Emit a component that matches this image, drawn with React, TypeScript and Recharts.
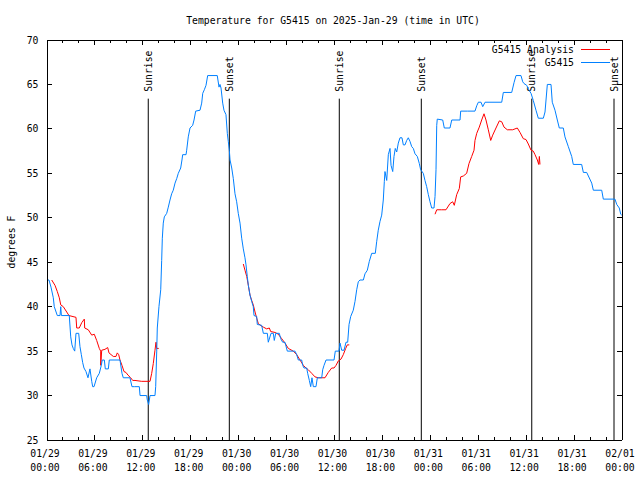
import React from 'react'
import { LineChart, Line, XAxis, YAxis, ReferenceLine, Legend } from 'recharts'

const FONT = '"DejaVu Sans Mono", "Liberation Mono", monospace'
const FS = 9.75

// G5415 observations: hours since 01/29 00:00 UTC, temperature (F)
const obsHours = [
  0, 0.25, 0.5, 0.79, 0.91, 1.29, 1.63, 1.72, 1.8, 2.79,
  2.97, 3.13, 3.29, 3.47, 3.63, 3.97, 4.13, 4.3, 4.47, 4.63,
  4.88, 5.13, 5.38, 5.6, 5.72, 5.89, 6.22, 6.55, 6.8, 6.92,
  7.18, 7.3, 7.68, 7.8, 9.14, 9.39, 9.55, 10.39, 10.64, 10.98,
  11.56, 11.65, 12.48, 12.56, 12.73, 12.9, 13.52, 13.61, 13.74, 13.81,
  14.02, 14.24, 14.36, 14.44, 14.56, 14.69, 14.99, 15.19, 15.4, 15.61,
  15.81, 16.03, 16.24, 16.44, 16.74, 16.9, 16.99, 17.41, 17.49, 17.69,
  17.91, 18.24, 18.41, 18.62, 19.16, 19.37, 19.5, 19.7, 19.91, 20.12,
  21.32, 21.54, 21.66, 21.79, 22.0, 22.16, 22.41, 22.58, 22.7, 22.83,
  22.92, 23.13, 23.33, 23.54, 23.75, 23.95, 24.17, 24.38, 24.58, 24.79,
  24.92, 25.08, 25.21, 25.42, 25.63, 25.83, 25.92, 26.26, 26.33, 26.88,
  27.09, 27.59, 27.71, 28.05, 28.34, 28.46, 28.64, 29.09, 29.26, 29.51,
  29.8, 30.09, 31.05, 31.27, 31.47, 31.89, 32.02, 32.18, 32.52, 32.64,
  32.85, 33.02, 33.18, 33.35, 33.68, 33.85, 34.4, 34.52, 34.69, 34.94,
  35.94, 36.1, 36.56, 36.69, 36.9, 37.19, 37.44, 37.65, 37.82, 38.03,
  38.35, 38.57, 38.78, 38.98, 39.19, 39.61, 39.82, 40.11, 40.36, 40.66,
  41.11, 41.28, 41.48, 41.7, 41.91, 42.11, 42.24, 42.32, 42.54, 42.74,
  42.95, 43.08, 43.29, 43.45, 43.61, 43.79, 43.99, 44.2, 44.45, 44.62,
  44.83, 45.04, 45.24, 45.45, 45.67, 45.87, 46.08, 46.37, 46.62, 46.79,
  47.12, 47.33, 47.54, 47.75, 47.96, 48.17, 48.46, 48.59, 48.71, 48.8,
  48.87, 49.55, 49.75, 50.46, 50.68, 51.72, 51.8, 52.63, 53.59, 53.81,
  54.01, 54.35, 54.56, 54.85, 56.94, 57.14, 58.19, 58.48, 58.73, 59.35,
  59.57, 59.73, 60.07, 60.32, 60.61, 60.89, 61.23, 61.52, 62.15, 62.36,
  62.65, 63.11, 63.27, 63.61, 63.9, 64.15, 64.65, 64.86, 65.28, 65.7,
  65.9, 66.95, 67.16, 67.58, 68.21, 68.41, 69.46, 69.66, 71.12, 71.34,
  71.66, 71.84, 71.97,
]
const obsTemp = [
  43, 43, 42.2, 41, 40, 39, 39, 40, 39, 39,
  36.6, 35.7, 35.3, 35, 37, 37, 35.5, 34.6, 33.7, 33.1,
  32.7, 32, 33, 31.6, 31, 31, 32, 32.5, 33.4, 34,
  34, 33, 33, 34, 34, 32.5, 32, 32, 31, 31,
  31, 30, 30, 29.5, 29, 30, 30, 31, 35, 37.6,
  40, 41.9, 45.2, 47.7, 49.4, 50.1, 50.5, 51.2, 52, 52.7,
  53.1, 53.9, 54.4, 55, 55.6, 56.5, 57.1, 57.1, 57.6, 59.1,
  60.1, 60.4, 61, 62, 62.1, 62.9, 64, 64.4, 64.9, 66,
  66, 64.7, 65, 64.6, 62.9, 62.1, 61.6, 59.5, 58.6, 57.6,
  56.5, 55.6, 54.4, 52.7, 51.8, 50.5, 49.4, 47.7, 46.5, 45.5,
  44.7, 43.4, 42.4, 41.3, 40.6, 40, 39, 38.9, 38, 37.9,
  37, 37, 36, 37, 37, 36.2, 37, 37, 36.4, 36,
  36, 35, 35, 34.6, 34, 34, 33.4, 33.1, 33.1, 32.5,
  31.7, 31, 32, 31, 31, 32, 32, 32.9, 33.4, 34,
  34, 35, 35, 35.9, 35.1, 35.1, 36, 36, 38, 38.9,
  39.6, 40.6, 41.9, 42.8, 43, 43, 43.7, 44.1, 45.1, 46,
  46, 47.3, 48.6, 49.6, 50.3, 52, 54.1, 55.2, 54.2, 57.1,
  57.8, 55.9, 55.2, 56.9, 57.8, 57.4, 58.4, 59, 59, 58.2,
  58.2, 58.7, 59, 58.6, 58, 57.8, 57.2, 56.9, 56.1, 55.4,
  55, 54.2, 53.5, 52.6, 51.8, 51.1, 51.1, 52.4, 55.4, 60.4,
  61.1, 61, 60.1, 60.1, 61, 61, 62, 62, 62, 62.6,
  63, 63, 62.5, 63, 63, 64.1, 64.1, 65.2, 66, 66,
  65.3, 65.1, 64.9, 64.4, 64, 63.2, 62.1, 61.2, 61.2, 61.9,
  65, 65, 63, 62.1, 61, 60.1, 60.1, 59.1, 58, 56.9,
  56, 56, 55.1, 55.1, 53.9, 53.1, 53.1, 52.1, 52.1, 51.5,
  51.1, 50.4, 50.3,
]

// G5415 Analysis (null = no analysis, breaks the line)
const anaHours = [
  0.59, 1.0, 1.29, 1.54, 1.72, 2.04, 2.47, 2.75, 3.63, 3.72,
  4.04, 4.35, 4.67, 4.72, 5.17, 5.6, 5.92, 6.22, 6.55, 6.72,
  6.73, 6.85, 7.26, 7.6, 7.76, 8.3, 8.64, 8.8, 8.98, 9.14,
  9.39, 9.64, 9.89, 10.14, 10.48, 10.73, 11.02, 11.86, 12.9, 13.11,
  13.31, 13.52, 13.65, 13.74, 13.99, 19,
  24.58, 24.79, 25.01, 25.21, 25.42, 25.63, 25.83, 26.05, 26.26, 26.46,
  26.88, 27.09, 27.51, 27.84, 28.01, 28.55, 28.96, 29.39, 29.8, 30.22,
  30.84, 31.27, 31.68, 32.1, 32.43, 32.72, 33.15, 33.56, 33.97, 34.81,
  35.22, 35.65, 35.94, 36.19, 36.48, 36.81, 37.1, 37.4, 37.6, 37.85, 43,
  48.59, 48.8, 49.42, 49.96, 50.46, 50.8, 51.0, 51.3, 51.63, 51.8,
  52.13, 52.55, 52.84, 53.18, 53.47, 53.59, 53.81, 54.13, 54.43, 54.72,
  54.97, 55.26, 55.56, 55.81, 56.22, 56.64, 56.94, 57.23, 57.64, 58.31,
  58.89, 59.23, 59.64, 59.98, 60.27, 60.61, 60.89, 61.11, 61.4, 61.57,
  61.65, 61.73,
]
const anaTemp = [
  43, 42.4, 41.7, 41, 40.2, 40, 39.4, 39, 38.8, 37.6,
  37.6, 38.2, 38.6, 37.6, 37.4, 36.8, 36.9, 36.2, 35.3, 35,
  33.4, 35.1, 35.2, 35.4, 34.8, 34.4, 34.4, 34.8, 34.6, 34,
  33.4, 32.7, 32.6, 32.3, 32, 31.7, 31.7, 31.6, 31.6, 32.5,
  33.6, 35.1, 36, 35.3, 35.3, null,
  44.8, 44.1, 43.4, 42.4, 41.3, 40.7, 40.2, 39.4, 38.7, 38.1,
  37.8, 37.7, 37.5, 37.6, 37.2, 37.1, 36.9, 36.4, 35.9, 35.3,
  35, 34.6, 34, 33.4, 33.1, 32.9, 32.5, 32.1, 32, 32,
  32.6, 33.1, 33.1, 33.4, 33.9, 34.1, 34.6, 35.3, 35.7, 35.7, null,
  50.4, 50.9, 50.9, 50.9, 51.6, 51.8, 51.4, 52.6, 53.3, 54.6,
  54.7, 55, 56.1, 56.9, 57.6, 58.7, 59.5, 60.2, 61, 61.7,
  61, 59.9, 58.7, 59.3, 60.1, 60.9, 60.8, 60.2, 59.9, 59.9,
  60.1, 59.6, 58.9, 58.8, 58.3, 57.6, 57.5, 57.1, 56.5, 56,
  56.9, 56,
]

const seriesNames = ['G5415 Analysis', 'G5415']

const sunriseHours = [12.68, 36.6, 60.7]
const sunsetHours = [22.83, 46.87, 71.0]
const markerTop = 63.4

const tickDays = ['01/29', '01/29', '01/29', '01/29', '01/30', '01/30', '01/30', '01/30', '01/31', '01/31', '01/31', '01/31', '02/01']
const tickTimes = ['00:00', '06:00', '12:00', '18:00', '00:00', '06:00', '12:00', '18:00', '00:00', '06:00', '12:00', '18:00', '00:00']
const xTicks = Array.from({ length: 37 }, (_, i) => i * 2)
const yTicks = [25, 30, 35, 40, 45, 50, 55, 60, 65, 70]

const obsData = obsHours.map((h, i) => ({ h, v: obsTemp[i] }))
const anaData = anaHours.map((h, i) => ({ h, v: anaTemp[i] }))

const txt = { fontFamily: FONT, fontSize: FS, fill: '#000' }

function BottomTick({ x, y, payload }: any) {
  const h = payload.value
  const major = h % 6 === 0
  const i = h / 6
  return (
    <g>
      <line x1={x} x2={x} y1={y} y2={y - (major ? 5 : 3)} stroke="#000" shapeRendering="crispEdges" />
      {major && (
        <text {...txt} textAnchor="middle">
          <tspan x={x - 2} y={y + 16.5}>{tickDays[i]}</tspan>
          <tspan x={x - 2} y={y + 31}>{tickTimes[i]}</tspan>
        </text>
      )}
    </g>
  )
}

function TopTick({ x, y, payload }: any) {
  const major = payload.value % 6 === 0
  return <line x1={x} x2={x} y1={y} y2={y + (major ? 5 : 3)} stroke="#000" shapeRendering="crispEdges" />
}

function LeftTick({ x, y, payload }: any) {
  return (
    <g>
      <line x1={x} x2={x + 5} y1={y} y2={y} stroke="#000" shapeRendering="crispEdges" />
      <text {...txt} x={x - 8.5} y={y + 3.5} textAnchor="end">{payload.value}</text>
    </g>
  )
}

function RightTick({ x, y }: any) {
  return <line x1={x} x2={x - 5} y1={y} y2={y} stroke="#000" shapeRendering="crispEdges" />
}

const markerLabel = (name: string) => (props: any) => {
  const { x, y } = props.viewBox
  const tx = x + 3.5
  const ty = y - 7
  return (
    <text {...txt} x={tx} y={ty} textAnchor="start" transform={`rotate(-90 ${tx} ${ty})`}>
      {name}
    </text>
  )
}

export default function App() {
  return (
    <div style={{ position: 'absolute', left: 0, top: 0, width: 640, height: 480, background: '#fff' }}>
      <LineChart width={640} height={480} margin={{ top: 0, right: 0, bottom: 0, left: 0 }}>
        <XAxis
          dataKey="h" type="number" domain={[0, 72]} ticks={xTicks} interval={0}
          allowDataOverflow height={40}
          axisLine={{ stroke: '#000', shapeRendering: 'crispEdges' }}
          tickLine={false} tickSize={0} tickMargin={0} tick={<BottomTick />}
        />
        <XAxis
          xAxisId="top" orientation="top" dataKey="h" type="number" domain={[0, 72]}
          ticks={xTicks} interval={0} allowDataOverflow height={40}
          axisLine={{ stroke: '#000', shapeRendering: 'crispEdges' }}
          tickLine={false} tickSize={0} tickMargin={0} tick={<TopTick />}
          label={(p: any) => {
            const vb = p.viewBox
            return (
              <text {...txt} x={vb.x + vb.width / 2 - 1.5} y={23.5} textAnchor="middle">
                Temperature for G5415 on 2025-Jan-29 (time in UTC)
              </text>
            )
          }}
        />
        <YAxis
          type="number" domain={[25, 70]} ticks={yTicks} interval={0} allowDataOverflow width={47}
          axisLine={{ stroke: '#000', shapeRendering: 'crispEdges' }}
          tickLine={false} tickSize={0} tickMargin={0} tick={<LeftTick />}
          label={(p: any) => {
            const vb = p.viewBox
            const cx = 14.5
            const cy = vb.y + vb.height / 2 + 2
            return (
              <text {...txt} x={cx} y={cy} textAnchor="middle" transform={`rotate(-90 ${cx} ${cy})`}>
                degrees F
              </text>
            )
          }}
        />
        <YAxis
          yAxisId="right" orientation="right" type="number" domain={[25, 70]} ticks={yTicks}
          interval={0} allowDataOverflow width={18}
          axisLine={{ stroke: '#000', shapeRendering: 'crispEdges' }}
          tickLine={false} tickSize={0} tickMargin={0} tick={<RightTick />}
        />

        {sunriseHours.map((h) => (
          <ReferenceLine
            key={'sr' + h}
            segment={[{ x: h, y: 25 }, { x: h, y: markerTop }]}
            stroke="#000" strokeWidth={1} ifOverflow="visible"
            label={markerLabel('Sunrise')}
          />
        ))}
        {sunsetHours.map((h) => (
          <ReferenceLine
            key={'ss' + h}
            segment={[{ x: h, y: 25 }, { x: h, y: markerTop }]}
            stroke="#000" strokeWidth={1} ifOverflow="visible"
            label={markerLabel('Sunset')}
          />
        ))}

        <Line
          data={anaData} dataKey="v" name={seriesNames[0]} type="linear"
          stroke="#ff0000" strokeWidth={1} dot={false} activeDot={false}
          isAnimationActive={false}
        />
        <Line
          data={obsData} dataKey="v" name={seriesNames[1]} type="linear"
          stroke="#0080ff" strokeWidth={1} dot={false} activeDot={false}
          isAnimationActive={false}
        />

        <Legend
          layout="vertical" align="center" verticalAlign="middle"
          wrapperStyle={{ top: 43, left: 440, width: 170, height: 26 }}
          content={(props: any) => {
            const items = [...(props.payload || [])].sort(
              (a: any, b: any) => seriesNames.indexOf(a.value) - seriesNames.indexOf(b.value)
            )
            return (
              <div style={{ fontFamily: FONT, fontSize: FS, color: '#000' }}>
                {items.map((p: any) => (
                  <div key={p.value} style={{ display: 'flex', justifyContent: 'flex-end', alignItems: 'center', height: 12.7 }}>
                    <span>{p.value}</span>
                    <span style={{ display: 'inline-block', width: 29, height: 1, background: p.color, marginLeft: 7 }} />
                  </div>
                ))}
              </div>
            )
          }}
        />
      </LineChart>
    </div>
  )
}
